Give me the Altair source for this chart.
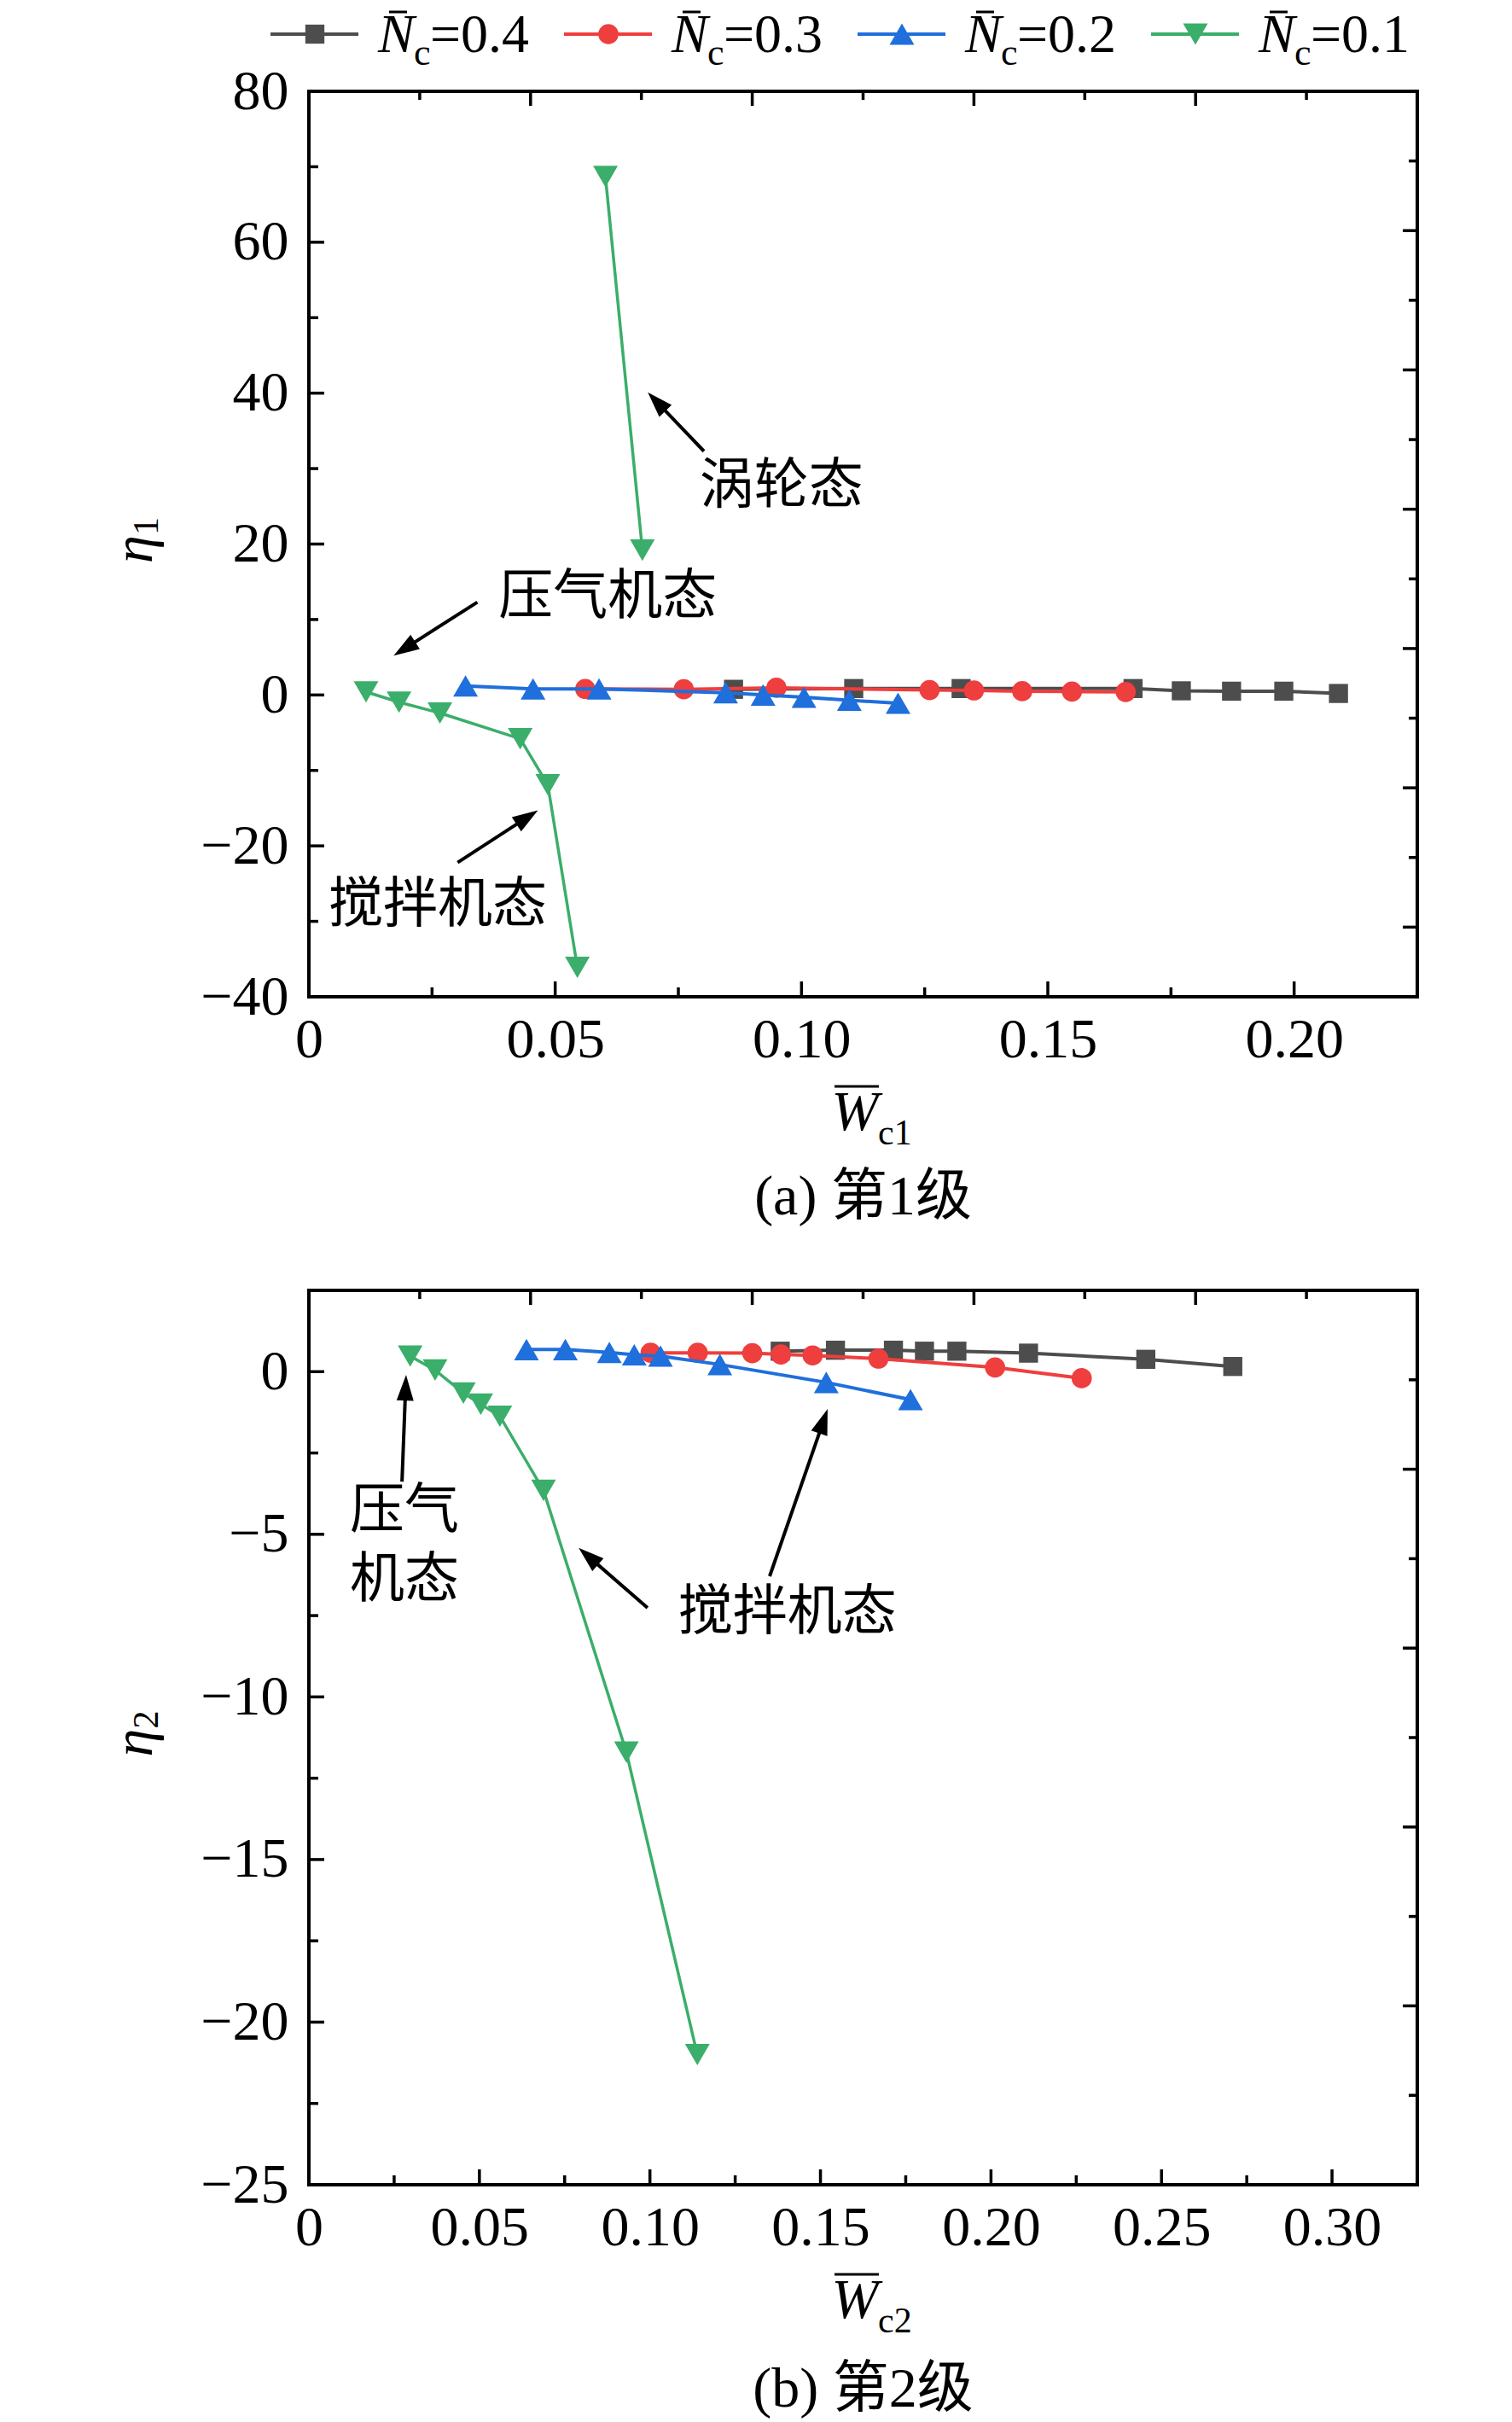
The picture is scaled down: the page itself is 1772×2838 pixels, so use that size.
import math
import altair as alt
import pandas as pd

# ---------------- series styling ----------------
SERIES = ["0.4", "0.3", "0.2", "0.1"]
COLORS = ["#4d4d4d", "#ef3e3e", "#1f6fdc", "#3aae6a"]
SHAPES = ["square", "circle", "triangle-up", "triangle-down"]
SIZES = [500, 560, 841, 841]
LEG_LABELS = ["=0.4", "=0.3", "=0.2", "=0.1"]

# ---------------- panel (a) data: stage 1 ----------------
a_w_04 = [0.0862, 0.1106, 0.1324, 0.1673, 0.1771, 0.1873, 0.1979, 0.2090]
a_eta_04 = [0.75, 0.85, 0.85, 0.85, 0.55, 0.50, 0.50, 0.20]
a_w_03 = [0.0561, 0.0761, 0.0949, 0.1260, 0.1350, 0.1448, 0.1549, 0.1658]
a_eta_03 = [0.80, 0.75, 0.95, 0.65, 0.60, 0.50, 0.45, 0.40]
a_w_02 = [0.0318, 0.0455, 0.0589, 0.0846, 0.0922, 0.1005, 0.1097, 0.1196]
a_eta_02 = [1.20, 0.80, 0.80, 0.30, 0.00, -0.30, -0.70, -1.10]
a_w_01_low = [0.0116, 0.0183, 0.0266, 0.0429, 0.0485, 0.0545]
a_eta_01_low = [0.40, -0.95, -2.40, -5.80, -11.90, -36.10]
a_w_01_high = [0.0602, 0.0677]
a_eta_01_high = [68.7, 19.2]

# ---------------- panel (b) data: stage 2 ----------------
b_w_04 = [0.1382, 0.1544, 0.1714, 0.1805, 0.1900, 0.2110, 0.2454, 0.2709]
b_eta_04 = [0.63, 0.66, 0.66, 0.63, 0.63, 0.57, 0.38, 0.16]
b_w_03 = [0.1002, 0.1140, 0.1300, 0.1384, 0.1477, 0.1670, 0.2012, 0.2266]
b_eta_03 = [0.58, 0.58, 0.57, 0.53, 0.50, 0.40, 0.13, -0.20]
b_w_02 = [0.0638, 0.0752, 0.0881, 0.0954, 0.1031, 0.1205, 0.1517, 0.1764]
b_eta_02 = [0.68, 0.68, 0.59, 0.52, 0.48, 0.22, -0.33, -0.86]
b_w_01 = [0.0297, 0.0370, 0.0453, 0.0504, 0.0560, 0.0688, 0.0931, 0.1139]
b_eta_01 = [0.48, 0.05, -0.66, -1.00, -1.37, -3.65, -11.70, -21.00]

# ---------------- annotations (text anchored at first-line baseline) ----------------
a_ann_text = ["涡轮态", "压气机态", "搅拌机态"]
a_ann_x = [0.0793, 0.0385, 0.0040]
a_ann_y = [25.5, 10.8, -30.1]
a_tail_x = [0.0802, 0.0342, 0.0302]
a_tail_y = [32.3, 12.3, -22.2]
a_head_x = [0.0688, 0.0172, 0.0465]
a_head_y = [40.1, 5.2, -15.3]

b_ann_text = ["压气\n机态", "搅拌机态"]
b_ann_x = [0.0120, 0.1083]
b_ann_y = [-4.79, -7.91]
b_tail_x = [0.0273, 0.0993, 0.1351]
b_tail_y = [-3.38, -7.26, -6.29]
b_head_x = [0.0285, 0.0791, 0.1521]
b_head_y = [-0.10, -5.42, -1.15]

# ---------------- axes ----------------
A_XDOM = [0, 0.225]
A_YDOM = [-40, 80]
A_XMAJ = [0, 0.05, 0.10, 0.15, 0.20]
A_XMIN = [0.025, 0.075, 0.125, 0.175]
A_YMAJ = [-40, -20, 0, 20, 40, 60, 80]
A_YMIN = [-30, -10, 10, 30, 50, 70]
A_RN = 13
A_RMAJ = [1, 3, 5, 7, 9, 11]
A_RMIN = [2, 4, 6, 8, 10, 12]

B_XDOM = [0, 0.325]
B_YDOM = [-25, 2.5]
B_XMAJ = [0, 0.05, 0.10, 0.15, 0.20, 0.25, 0.30]
B_XMIN = [0.025, 0.075, 0.125, 0.175, 0.225, 0.275]
B_YMAJ = [-25, -20, -15, -10, -5, 0]
B_YMIN = [-22.5, -17.5, -12.5, -7.5, -2.5]
B_RN = 10
B_RMAJ = [2, 4, 6, 8]
B_RMIN = [1, 3, 5, 7, 9]

TOP_N = 10
TOP_MAJ = [2, 4, 6, 8]
TOP_MIN = [1, 3, 5, 7, 9]

LAT = "Liberation Serif"
MIX = "'Liberation Serif', 'Noto Sans CJK SC'"
CJK = "'Noto Sans CJK SC'"
FS = 66

W = 1299
HA = 1061
HB = 1048

ARROW = "M0,0L0.6667,2L-0.6667,2Z"
ONE = pd.DataFrame({"k": [0]})


def arrows_df(tx, ty, hx, hy, kx, ky, head_len=30):
    rows = []
    for a, b, c, d in zip(tx, ty, hx, hy):
        dxp = (c - a) * kx
        dyp = (d - b) * ky
        L = math.hypot(dxp, dyp)
        ang = math.degrees(math.atan2(dxp, dyp)) % 360
        f = 0.6 * head_len / L
        rows.append({"x": a, "y": b, "x2": c - (c - a) * f, "y2": d - (d - b) * f,
                     "hx": c, "hy": d, "ang": ang})
    return pd.DataFrame(rows)


def panel(H, xdom, ydom, series, xmaj, xmin, ymaj, ymin, rn, rmaj, rmin,
          ann, arrows, sub, caption, cap_dy, legend=False):
    xexpr = "datum.value == 0 ? '0' : format(datum.value, '.2f')"
    yexpr = "replace(format(datum.value, 'd'), '-', '\u2212')"
    XS = alt.Scale(domain=xdom, nice=False, zero=False)
    YS = alt.Scale(domain=ydom, nice=False, zero=False)
    XA = alt.Axis(values=xmaj, ticks=False, tickSize=0, domain=False, grid=False, title=None,
                  labelFont=LAT, labelFontSize=FS, labelColor="black", labelPadding=18,
                  labelFlush=False, labelOverlap=False, labelExpr=xexpr)
    YA = alt.Axis(values=ymaj, ticks=False, tickSize=0, domain=False, grid=False, title=None,
                  labelFont=LAT, labelFontSize=FS, labelColor="black", labelPadding=24,
                  labelFlush=False, labelOverlap=False, labelExpr=yexpr)

    def X(f):
        return alt.X(f, type="quantitative", scale=XS, axis=XA)

    def Y(f):
        return alt.Y(f, type="quantitative", scale=YS, axis=YA)

    layers = []
    # ticks drawn through the scales (inward ticks)
    tick = dict(color="black", strokeWidth=3.5)
    layers.append(alt.Chart(pd.DataFrame({"x": xmaj})).mark_rule(**tick)
                  .encode(x=X("x"), y=alt.value(H), y2=alt.value(H - 18)))
    layers.append(alt.Chart(pd.DataFrame({"x": xmin})).mark_rule(**tick)
                  .encode(x=X("x"), y=alt.value(H), y2=alt.value(H - 11)))
    layers.append(alt.Chart(pd.DataFrame({"y": ymaj})).mark_rule(**tick)
                  .encode(y=Y("y"), x=alt.value(0), x2=alt.value(18)))
    layers.append(alt.Chart(pd.DataFrame({"y": ymin})).mark_rule(**tick)
                  .encode(y=Y("y"), x=alt.value(0), x2=alt.value(11)))
    # top and right axes: independent equal divisions of the frame
    xspan = xdom[1] - xdom[0]
    yspan = ydom[1] - ydom[0]
    top_maj = [xdom[0] + t * xspan / TOP_N for t in TOP_MAJ]
    top_min = [xdom[0] + t * xspan / TOP_N for t in TOP_MIN]
    r_maj = [ydom[0] + t * yspan / rn for t in rmaj]
    r_min = [ydom[0] + t * yspan / rn for t in rmin]
    layers.append(alt.Chart(pd.DataFrame({"x": top_maj})).mark_rule(**tick)
                  .encode(x=X("x"), y=alt.value(0), y2=alt.value(17)))
    layers.append(alt.Chart(pd.DataFrame({"x": top_min})).mark_rule(**tick)
                  .encode(x=X("x"), y=alt.value(0), y2=alt.value(10)))
    layers.append(alt.Chart(pd.DataFrame({"y": r_maj})).mark_rule(**tick)
                  .encode(y=Y("y"), x=alt.value(W), x2=alt.value(W - 17)))
    layers.append(alt.Chart(pd.DataFrame({"y": r_min})).mark_rule(**tick)
                  .encode(y=Y("y"), x=alt.value(W), x2=alt.value(W - 10)))

    for i, (xs, ys, br) in enumerate(series):
        df = pd.DataFrame({"x": xs, "y": ys, "branch": br})
        layers.append(alt.Chart(df).mark_line(color=COLORS[i], strokeWidth=4 if i < 3 else 3.5)
                      .encode(x=X("x"), y=Y("y"), detail="branch:N"))
        layers.append(alt.Chart(df).mark_point(shape=SHAPES[i], filled=True, size=SIZES[i],
                                               color=COLORS[i], opacity=1, strokeWidth=0)
                      .encode(x=X("x"), y=Y("y")))

    # annotation arrows
    kx = W / xspan
    ky = H / yspan
    adf = arrows_df(*arrows, kx, ky)
    layers.append(alt.Chart(adf).mark_rule(color="black", strokeWidth=4).encode(
        x=X("x"), y=Y("y"), x2="x2:Q", y2="y2:Q"))
    hdf = adf[["hx", "hy", "ang"]].rename(columns={"hx": "x", "hy": "y"})
    layers.append(alt.Chart(hdf).mark_point(shape=ARROW, filled=True, size=900, color="black",
                                            opacity=1, strokeWidth=0).encode(
        x=X("x"), y=Y("y"), angle=alt.Angle("ang:Q", scale=None)))
    tdf = pd.DataFrame({"x": ann[1], "y": ann[2], "txt": ann[0]})
    layers.append(alt.Chart(tdf).mark_text(align="left", baseline="alphabetic", font=CJK,
                                           fontSize=64, color="black", lineBreak="\n",
                                           lineHeight=81).encode(
        x=X("x"), y=Y("y"), text="txt:N"))

    # axis titles as text
    layers.append(alt.Chart(ONE).mark_text(text="W", font=LAT, fontStyle="italic", fontSize=FS,
                                           align="center", baseline="alphabetic", color="black")
                  .encode(x=alt.value(640), y=alt.value(H + 156)))
    layers.append(alt.Chart(ONE).mark_rule(color="black", strokeWidth=3)
                  .encode(x=alt.value(616), x2=alt.value(668), y=alt.value(H + 105)))
    layers.append(alt.Chart(ONE).mark_text(text="c" + sub, font=LAT, fontSize=42,
                                           align="left", baseline="alphabetic", color="black")
                  .encode(x=alt.value(667), y=alt.value(H + 173)))
    layers.append(alt.Chart(ONE).mark_text(text="η", font=LAT, fontStyle="italic", fontSize=FS,
                                           align="center", baseline="middle", angle=270,
                                           color="black")
                  .encode(x=alt.value(-204), y=alt.value(H / 2 + 6)))
    layers.append(alt.Chart(ONE).mark_text(text=sub, font=LAT, fontSize=42,
                                           align="center", baseline="middle", angle=270,
                                           color="black")
                  .encode(x=alt.value(-190), y=alt.value(H / 2 - 21)))
    layers.append(alt.Chart(ONE).mark_text(text=caption, font=MIX, fontSize=FS,
                                           align="center", baseline="middle", color="black")
                  .encode(x=alt.value(W / 2), y=alt.value(H + cap_dy)))

    if legend:
        for i in range(len(SERIES)):
            s = -45 + 344 * i
            layers.append(alt.Chart(ONE).mark_rule(color=COLORS[i], strokeWidth=4)
                          .encode(x=alt.value(s), x2=alt.value(s + 103), y=alt.value(-67)))
            layers.append(alt.Chart(ONE).mark_point(shape=SHAPES[i], filled=True, size=SIZES[i],
                                                    color=COLORS[i], opacity=1, strokeWidth=0)
                          .encode(x=alt.value(s + 52), y=alt.value(-67)))
            layers.append(alt.Chart(ONE).mark_text(text="N", font=LAT, fontStyle="italic",
                                                   fontSize=64, align="left",
                                                   baseline="alphabetic", color="black")
                          .encode(x=alt.value(s + 126), y=alt.value(-46)))
            layers.append(alt.Chart(ONE).mark_rule(color="black", strokeWidth=3)
                          .encode(x=alt.value(s + 139), x2=alt.value(s + 160), y=alt.value(-93)))
            layers.append(alt.Chart(ONE).mark_text(text="c", font=LAT, fontSize=44, align="left",
                                                   baseline="alphabetic", color="black")
                          .encode(x=alt.value(s + 168), y=alt.value(-31)))
            layers.append(alt.Chart(ONE).mark_text(text=LEG_LABELS[i], font=LAT, fontSize=64,
                                                   align="left", baseline="alphabetic",
                                                   color="black")
                          .encode(x=alt.value(s + 187), y=alt.value(-46)))

    return alt.layer(*layers).properties(width=W, height=H)


a_series = [
    (a_w_04, a_eta_04, [0] * len(a_w_04)),
    (a_w_03, a_eta_03, [0] * len(a_w_03)),
    (a_w_02, a_eta_02, [0] * len(a_w_02)),
    (a_w_01_low + a_w_01_high, a_eta_01_low + a_eta_01_high,
     [0] * len(a_w_01_low) + [1] * len(a_w_01_high)),
]
b_series = [
    (b_w_04, b_eta_04, [0] * len(b_w_04)),
    (b_w_03, b_eta_03, [0] * len(b_w_03)),
    (b_w_02, b_eta_02, [0] * len(b_w_02)),
    (b_w_01, b_eta_01, [0] * len(b_w_01)),
]

pa = panel(HA, A_XDOM, A_YDOM, a_series, A_XMAJ, A_XMIN, A_YMAJ, A_YMIN, A_RN, A_RMAJ, A_RMIN,
           (a_ann_text, a_ann_x, a_ann_y), (a_tail_x, a_tail_y, a_head_x, a_head_y),
           "1", "(a) 第1级", 235, legend=True)
pb = panel(HB, B_XDOM, B_YDOM, b_series, B_XMAJ, B_XMIN, B_YMAJ, B_YMIN, B_RN, B_RMAJ, B_RMIN,
           (b_ann_text, b_ann_x, b_ann_y), (b_tail_x, b_tail_y, b_head_x, b_head_y),
           "2", "(b) 第2级", 240)

chart = alt.vconcat(pa, pb, spacing=70).configure_view(
    stroke="black", strokeWidth=4).properties(
    background="white", padding={"left": 115, "top": 0, "right": 10, "bottom": 10})

chart.save("out.html", embed_options={"renderer": "svg", "actions": False})
